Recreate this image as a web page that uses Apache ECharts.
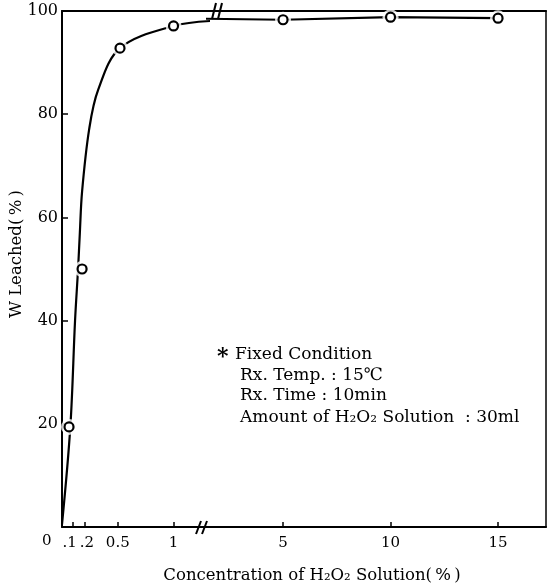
<!DOCTYPE html>
<html>
<head>
<meta charset="utf-8">
<script src="https://cdn.jsdelivr.net/npm/echarts@6.0.0/dist/echarts.min.js"></script>
<style>
html,body{margin:0;padding:0;background:#fff;}
#chart{width:547px;height:587px;}
</style>
</head>
<body>
<div id="chart"></div>
<script>
// ---- data ----
// measured points (H2O2 concentration %, W leached %)
const pointX = [0.063, 0.18, 0.52, 1.0, 5, 10, 15];
const pointY = [19.4, 50, 92.8, 97.1, 98.3, 98.8, 98.6];
// hand-drawn fitted curve, left (expanded) segment 0 - ~1.3 %
const curveLowX = [0, 0.075, 0.117, 0.144, 0.16, 0.18, 0.243, 0.324, 0.52, 1.0, 1.36];
const curveLowY = [0.5, 19.5, 40, 50, 57, 65, 77, 84.7, 92.8, 97.1, 98.1];
// right (compressed) segment after the axis break
const curveHighX = [1.4, 5, 10, 15];
const curveHighY = [98.5, 98.3, 98.8, 98.6];
// tick labels
const lowTicks = [0.1, 0.2, 0.5, 1];
const lowTickLabels = ['{l|.1}', '{r|.2}', '0.5', '1'];
const highTicks = [5, 10, 15];
const highTickLabels = ['5', '10', '15'];
const yTicks = [20, 40, 60, 80, 100];

const FONT = 'DejaVu Serif';
const BREAK = 1.3; // split between the two x segments

function pairs(xs, ys) { return xs.map((x, i) => [x, ys[i]]); }
const lowPts = pairs(pointX, pointY).filter(p => p[0] <= BREAK);
const highPts = pairs(pointX, pointY).filter(p => p[0] > BREAK);

const axisLineStyle = { color: '#000', width: 2 };

const chart = echarts.init(document.getElementById('chart'), null, { renderer: 'canvas' });

const option = {
  backgroundColor: '#fff',
  animation: false,
  grid: [
    { left: 62, top: 11, width: 146, height: 516 },
    { left: 208, top: 11, width: 338, height: 516 }
  ],
  xAxis: [
    { // 0: lower bottom
      gridIndex: 0, type: 'value', min: 0, max: 1.309, position: 'bottom',
      axisLine: { show: true, onZero: false, lineStyle: axisLineStyle },
      axisTick: { show: true, inside: true, length: 5, lineStyle: { color: '#000', width: 1.5 }, customValues: lowTicks },
      axisLabel: { show: true, customValues: lowTicks, margin: 9, color: '#000', fontFamily: FONT, fontSize: 15,
        hideOverlap: false, showMinLabel: true, showMaxLabel: true,
        rich: {
          l: { fontFamily: FONT, fontSize: 15, color: '#000', padding: [0, 7, 0, 0] },
          r: { fontFamily: FONT, fontSize: 15, color: '#000', padding: [0, 0, 0, 5] }
        },
        formatter: v => lowTickLabels[lowTicks.indexOf(+(+v).toFixed(3))] || '' },
      splitLine: { show: false }
    },
    { // 1: lower top border
      gridIndex: 0, type: 'value', min: 0, max: 1.309, position: 'top',
      axisLine: { show: true, onZero: false, lineStyle: axisLineStyle },
      axisTick: { show: false }, axisLabel: { show: false }, splitLine: { show: false }
    },
    { // 2: upper bottom
      gridIndex: 1, type: 'value', min: 1.51, max: 17.23, position: 'bottom',
      axisLine: { show: true, onZero: false, lineStyle: axisLineStyle },
      axisTick: { show: true, inside: true, length: 5, lineStyle: { color: '#000', width: 1.5 }, customValues: highTicks },
      axisLabel: { show: true, customValues: highTicks, margin: 9, color: '#000', fontFamily: FONT, fontSize: 15,
        formatter: v => highTickLabels[highTicks.indexOf(Math.round(v))] || '' },
      splitLine: { show: false }
    },
    { // 3: upper top border
      gridIndex: 1, type: 'value', min: 1.51, max: 17.23, position: 'top',
      axisLine: { show: true, onZero: false, lineStyle: axisLineStyle },
      axisTick: { show: false }, axisLabel: { show: false }, splitLine: { show: false }
    }
  ],
  yAxis: [
    { // 0: main left axis
      gridIndex: 0, type: 'value', min: 0, max: 100, position: 'left',
      axisLine: { show: true, onZero: false, lineStyle: axisLineStyle },
      axisTick: { show: true, inside: true, length: 6, lineStyle: { color: '#000', width: 1.5 }, customValues: yTicks },
      axisLabel: { show: true, customValues: yTicks, margin: 4, color: '#000', fontFamily: FONT, fontSize: 16 },
      splitLine: { show: false }
    },
    { // 1: right grid scale (hidden)
      gridIndex: 1, type: 'value', min: 0, max: 100, position: 'left', show: false
    },
    { // 2: right border
      gridIndex: 1, type: 'value', min: 0, max: 100, position: 'right',
      axisLine: { show: true, onZero: false, lineStyle: { color: '#000', width: 1.5 } },
      axisTick: { show: false }, axisLabel: { show: false }, splitLine: { show: false }
    }
  ],
  series: [
    { type: 'line', xAxisIndex: 0, yAxisIndex: 0, data: pairs(curveLowX, curveLowY), smooth: 0.35,
      showSymbol: false, clip: true, lineStyle: { color: '#000', width: 2.2 }, z: 2 },
    { type: 'line', xAxisIndex: 2, yAxisIndex: 1, data: pairs(curveHighX, curveHighY), smooth: false,
      showSymbol: false, clip: true, lineStyle: { color: '#000', width: 2.2 }, z: 2 },
    // white halos to leave gaps in the line around each circle
    { type: 'scatter', xAxisIndex: 0, yAxisIndex: 0, data: lowPts, symbol: 'circle', symbolSize: 16,
      itemStyle: { color: '#fff' }, z: 3, silent: true },
    { type: 'scatter', xAxisIndex: 2, yAxisIndex: 1, data: highPts, symbol: 'circle', symbolSize: 16,
      itemStyle: { color: '#fff' }, z: 3, silent: true },
    // open circle markers
    { type: 'scatter', xAxisIndex: 0, yAxisIndex: 0, data: lowPts, symbol: 'circle', symbolSize: 9,
      itemStyle: { color: '#fff', borderColor: '#000', borderWidth: 2.2, opacity: 1 }, z: 4 },
    { type: 'scatter', xAxisIndex: 2, yAxisIndex: 1, data: highPts, symbol: 'circle', symbolSize: 9,
      itemStyle: { color: '#fff', borderColor: '#000', borderWidth: 2.2, opacity: 1 }, z: 4 }
  ],
  graphic: [
    // origin label
    { type: 'text', left: 42, top: 534, style: { text: '0', fontFamily: FONT, fontSize: 15, fill: '#000' } },
    // axis titles
    { type: 'text', x: 312, y: 576, style: { text: 'Concentration of H\u2082O\u2082 Solution(\u2009%\u2009)', fontFamily: FONT, fontSize: 16.5,
      fill: '#000', align: 'center', verticalAlign: 'middle' } },
    { type: 'text', x: 17, y: 254, rotation: Math.PI / 2, style: { text: 'W Leached(\u2009%\u2009)', fontFamily: FONT, fontSize: 16.5,
      fill: '#000', align: 'center', verticalAlign: 'middle' } },
    // annotation
    { type: 'text', x: 217, y: 357, style: { text: '*', fontFamily: FONT, fontSize: 22, fontWeight: 'bold', fill: '#000', verticalAlign: 'middle' } },
    { type: 'text', x: 235, y: 355, style: { text: 'Fixed Condition', fontFamily: FONT, fontSize: 17, fill: '#000', verticalAlign: 'middle' } },
    { type: 'text', x: 240, y: 376, style: { text: 'Rx. Temp. : 15\u2103', fontFamily: FONT, fontSize: 17, fill: '#000', verticalAlign: 'middle' } },
    { type: 'text', x: 240, y: 396, style: { text: 'Rx. Time : 10min', fontFamily: FONT, fontSize: 17, fill: '#000', verticalAlign: 'middle' } },
    { type: 'text', x: 240, y: 418, style: { text: 'Amount of H\u2082O\u2082 Solution  : 30ml', fontFamily: FONT, fontSize: 17, fill: '#000', verticalAlign: 'middle' } },
    // axis break marks
    { type: 'line', shape: { x1: 196, y1: 534, x2: 201, y2: 521 }, style: { stroke: '#000', lineWidth: 2 }, z: 10 },
    { type: 'line', shape: { x1: 202, y1: 534, x2: 207, y2: 521 }, style: { stroke: '#000', lineWidth: 2 }, z: 10 },
    { type: 'line', shape: { x1: 212, y1: 19, x2: 216, y2: 3 }, style: { stroke: '#000', lineWidth: 2 }, z: 10 },
    { type: 'line', shape: { x1: 218, y1: 19, x2: 222, y2: 3 }, style: { stroke: '#000', lineWidth: 2 }, z: 10 }
  ]
};
chart.setOption(option);
</script>
</body>
</html>
